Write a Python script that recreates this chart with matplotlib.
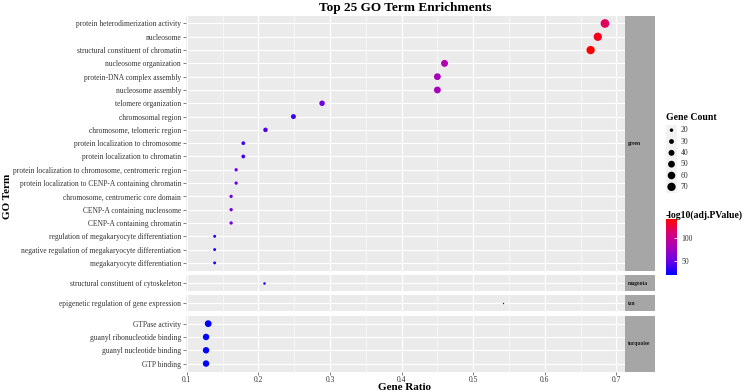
import numpy as np
import matplotlib
matplotlib.use('Agg')
import matplotlib.pyplot as plt
from matplotlib.colors import LinearSegmentedColormap, Normalize

plt.rcParams['font.family'] = 'Liberation Serif'

# facets (module colour) and their GO terms, top to bottom
modules = ['green', 'magenta', 'tan', 'turquoise']
terms = {
    'green': ['protein heterodimerization activity', 'nucleosome',
              'structural constituent of chromatin', 'nucleosome organization',
              'protein-DNA complex assembly', 'nucleosome assembly',
              'telomere organization', 'chromosomal region',
              'chromosome, telomeric region', 'protein localization to chromosome',
              'protein localization to chromatin',
              'protein localization to chromosome, centromeric region',
              'protein localization to CENP-A containing chromatin',
              'chromosome, centromeric core domain', 'CENP-A containing nucleosome',
              'CENP-A containing chromatin',
              'regulation of megakaryocyte differentiation',
              'negative regulation of megakaryocyte differentiation',
              'megakaryocyte differentiation'],
    'magenta': ['structural constituent of cytoskeleton'],
    'tan': ['epigenetic regulation of gene expression'],
    'turquoise': ['GTPase activity', 'guanyl ribonucleotide binding',
                  'guanyl nucleotide binding', 'GTP binding'],
}
gene_ratio = {
    'green': [0.684, 0.674, 0.664, 0.460, 0.450, 0.450, 0.289, 0.249, 0.210,
              0.179, 0.179, 0.169, 0.169, 0.162, 0.162, 0.162, 0.139, 0.139, 0.139],
    'magenta': [0.208],
    'tan': [0.542],
    'turquoise': [0.130, 0.127, 0.127, 0.127],
}
gene_count = {
    'green': [76, 70, 70, 52, 50, 50, 36, 31, 27, 22, 22, 19, 19, 19, 19, 19, 17, 17, 17],
    'magenta': [15],
    'tan': [11],
    'turquoise': [50, 46, 46, 46],
}
neg_log_p = {
    'green': [118, 135, 142, 85, 80, 80, 52, 35, 42, 38, 38, 55, 55, 52, 52, 52, 32, 32, 32],
    'magenta': [33],
    'tan': [28],
    'turquoise': [18, 18, 18, 18],
}
size_breaks = [20, 30, 40, 50, 60, 70]
color_ticks = [50, 100]

# blue -> red gradient (roughly like ggplot's Lab interpolation)
cmap = LinearSegmentedColormap.from_list(
    'bluered', ['#0000FF', '#6A00E6', '#A800B8', '#D8007A', '#FF0000'])
norm = Normalize(18, 142)


def dot_size(c):
    # count -> marker area in pt^2 (diameter in px squared ~ linear in count)
    c = np.asarray(c, dtype=float)
    d2 = np.clip(1.13 * c - 10.4, 1.5, None)
    return d2 * 0.72 ** 2


W, H = 745, 392
fig = plt.figure(figsize=(W / 100, H / 100), dpi=100)

px_per_unit = 13.3
gap = 4.3
top = 15.5
left, right, strip_w = 186, 625, 30
xlim = (0.099, 0.712)

y = top
axes = []
for i, m in enumerate(modules):
    n = len(terms[m])
    h = (n - 1 + 1.2) * px_per_unit
    ax = fig.add_axes([left / W, 1 - (y + h) / H, (right - left) / W, h / H])
    ax.set_facecolor('#EBEBEB')
    ax.set_xlim(*xlim)
    ax.set_ylim(n - 0.4, -0.6)
    ax.set_xticks([0.1, 0.2, 0.3, 0.4, 0.5, 0.6, 0.7])
    ax.set_xticks(np.arange(0.15, 0.7, 0.1), minor=True)
    ax.set_yticks(range(n))
    ax.set_yticklabels(terms[m])
    ax.grid(True, which='major', color='white', lw=0.8)
    ax.grid(True, which='minor', axis='x', color='white', lw=0.4)
    ax.set_axisbelow(True)
    for s in ax.spines.values():
        s.set_visible(False)
    ax.tick_params(axis='both', which='major', labelsize=5.45, colors='#4D4D4D',
                   length=2, width=0.5, pad=1.5, labelcolor='#333333')
    ax.tick_params(axis='x', which='minor', length=0)
    ax.scatter(gene_ratio[m], range(n), s=dot_size(gene_count[m]),
               c=neg_log_p[m], cmap=cmap, norm=norm, linewidths=0, zorder=3)
    if i < len(modules) - 1:
        ax.tick_params(axis='x', which='major', labelbottom=False, length=0)
    # facet strip on the right
    sax = fig.add_axes([right / W, 1 - (y + h) / H, strip_w / W, h / H])
    sax.set_facecolor('#A6A6A6')
    sax.set_xticks([])
    sax.set_yticks([])
    for s in sax.spines.values():
        s.set_visible(False)
    sax.text(0.1, 0.5, m, fontsize=4, fontweight='bold', color='#1A1A1A',
             ha='left', va='center', transform=sax.transAxes)
    axes.append(ax)
    y += h + gap

fig.text(405 / W, 1 - 8.5 / H, 'Top 25 GO Term Enrichments', fontsize=9.5,
         fontweight='bold', ha='center', va='center')
fig.text(405 / W, 1 - 387.5 / H, 'Gene Ratio', fontsize=8, fontweight='bold',
         ha='center', va='center')
fig.text(8 / W, 1 - 196 / H, 'GO Term', fontsize=8, fontweight='bold',
         ha='center', va='center', rotation=90)

# size legend
fig.text(666 / W, 1 - 117 / H, 'Gene Count', fontsize=7, fontweight='bold',
         ha='left', va='center')
lax = fig.add_axes([666 / W, 1 - 192.5 / H, 11 / W, 68 / H])
lax.set_facecolor('#F2F2F2')
lax.set_xlim(0, 1)
lax.set_ylim(len(size_breaks) - 0.5, -0.5)
lax.scatter([0.5] * len(size_breaks), range(len(size_breaks)),
            s=dot_size(size_breaks), color='black', linewidths=0)
lax.set_xticks([])
lax.set_yticks([])
for s in lax.spines.values():
    s.set_visible(False)
for k, b in enumerate(size_breaks):
    lax.text(1.35, k, str(b), fontsize=5.6, color='#333333', va='center',
             ha='left', transform=lax.get_yaxis_transform())

# colour legend
fig.text(666 / W, 1 - 215.5 / H, '-log10(adj.PValue)', fontsize=7,
         fontweight='bold', ha='left', va='center')
cax = fig.add_axes([666 / W, 1 - 275 / H, 11 / W, 55.7 / H])
sm = plt.cm.ScalarMappable(norm=norm, cmap=cmap)
cb = fig.colorbar(sm, cax=cax, ticks=color_ticks)
cb.outline.set_visible(False)
cax.tick_params(direction='in', color='white', length=2, width=0.6,
                labelsize=5.6, labelcolor='#333333', pad=3)

fig.savefig('out.png', dpi=100)
